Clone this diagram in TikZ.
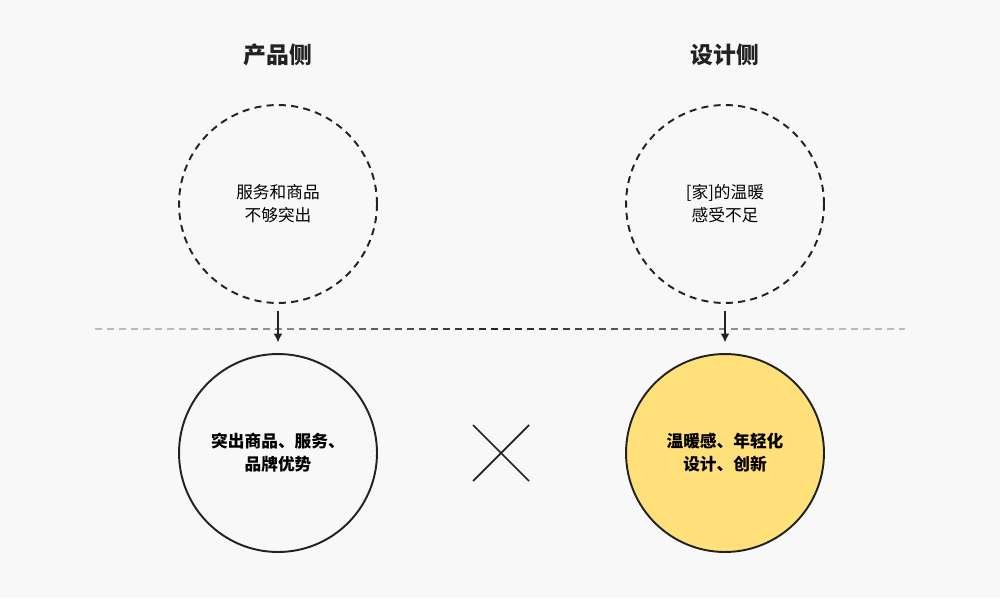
\documentclass[tikz,border=0pt]{standalone}
\usepackage{fontspec}
\setmainfont{Noto Sans CJK SC}
\usetikzlibrary{arrows.meta,positioning}
\definecolor{bg}{HTML}{F8F8F8}
\definecolor{ink}{HTML}{222222}
\definecolor{fade}{HTML}{BBBBBB}
\definecolor{warm}{HTML}{FFE07A}

\tikzset{
  ring/.style={circle, draw=ink, line width=1.1pt, minimum size=3.96cm, inner sep=0pt, align=center, font=\fontsize{9.5}{13}\selectfont},
  dashring/.style={ring, dashed, dash pattern=on 4pt off 3pt},
  head/.style={font=\bfseries\fontsize{13}{15}\selectfont, text=ink},
}

\begin{document}
\begin{tikzpicture}[x=0.02cm,y=-0.02cm]
\fill[bg] (0,0) rectangle (1000,598);
\useasboundingbox (0,0) rectangle (1000,598);

\node[head] (pt) at (278,55) {产品侧};
\node[head] (dt) at (725,55) {设计侧};

\node[dashring] (p1) at (278,204) {服务和商品\\不够突出};
\node[dashring] (d1) at (725,204) {[家]的温暖\\感受不足};

\node[ring, font=\bfseries\fontsize{9.5}{13}\selectfont] (p2) at (278,453) {突出商品、服务、\\品牌优势};
\node[ring, fill=warm, font=\bfseries\fontsize{9.5}{13}\selectfont] (d2) at (725,453) {温暖感、年轻化\\设计、创新};

% divider, fading to gray at both ends
\foreach \i in {0,...,67}{
  \pgfmathsetmacro\xa{95+12*\i}
  \pgfmathsetmacro\xb{min(\xa+7,905)}
  \pgfmathsetmacro\p{100*max(0,1-abs(\xa-500)/330)}
  \draw[line width=1.1pt, color=ink!\p!fade] (\xa,329) -- (\xb,329);
}

\draw[ink, line width=1.1pt, -{Latex[length=5pt,width=5pt]}, shorten <=4pt, shorten >=6pt] (p1) -- (p2);
\draw[ink, line width=1.1pt, -{Latex[length=5pt,width=5pt]}, shorten <=4pt, shorten >=6pt] (d1) -- (d2);

\coordinate (xc) at (501,453);
\draw[ink, line width=1pt] ([shift={(-28,-28)}]xc) -- ([shift={(28,28)}]xc);
\draw[ink, line width=1pt] ([shift={(-28,28)}]xc) -- ([shift={(28,-28)}]xc);
\end{tikzpicture}
\end{document}
